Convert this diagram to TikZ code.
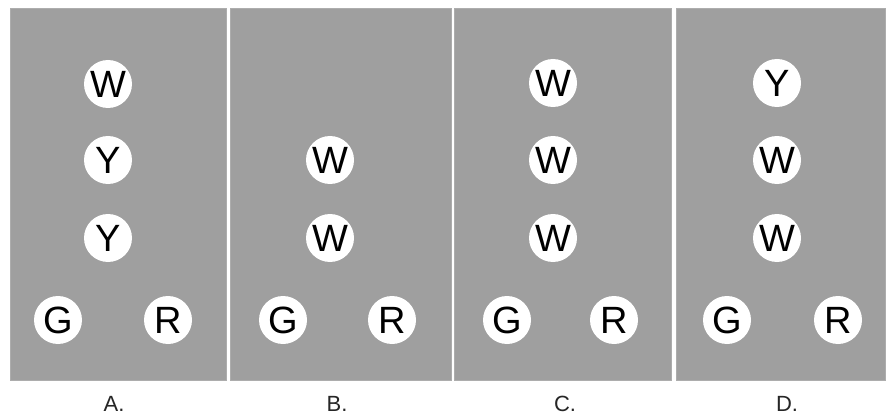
\documentclass[tikz,border=0pt]{standalone}
\usepackage{fontspec}
\setmainfont{Liberation Sans}
\begin{document}
\begin{tikzpicture}[x=1pt,y=-1pt,
  panel/.style={fill=panelgray,draw=panelgray!85!white,line width=1pt},
  ball/.style={circle,fill=white,draw=none,minimum size=48pt,inner sep=0pt,font=\fontsize{38}{38}\selectfont},
  lab/.style={font=\fontsize{22}{22}\selectfont,text=black!85}]
\definecolor{panelgray}{HTML}{9F9F9F}
\useasboundingbox[fill=white] (0,0) rectangle (889,417);
% panels
\path[panel] (10,9) rectangle (226,380);
\path[panel] (230,9) rectangle (451,380);
\path[panel] (454,9) rectangle (671,380);
\path[panel] (676,9) rectangle (885,380);
% A
\node[ball] (a1) at (108,84) {W};
\node[ball] (a2) at (108,160) {Y};
\node[ball] (a3) at (108,238) {Y};
\node[ball] (ag) at (58,320) {G};
\node[ball] (ar) at (168,320) {R};
\node[lab] (la) at (114,404) {A.};
% B
\node[ball] (b2) at (330,160) {W};
\node[ball] (b3) at (330,238) {W};
\node[ball] (bg) at (283,320) {G};
\node[ball] (br) at (392,320) {R};
\node[lab] (lb) at (337,404) {B.};
% C
\node[ball] (c1) at (553,83) {W};
\node[ball] (c2) at (553,160) {W};
\node[ball] (c3) at (553,238) {W};
\node[ball] (cg) at (507,320) {G};
\node[ball] (cr) at (614,320) {R};
\node[lab] (lc) at (565,404) {C.};
% D
\node[ball] (d1) at (777,83) {Y};
\node[ball] (d2) at (777,160) {W};
\node[ball] (d3) at (777,238) {W};
\node[ball] (dg) at (727,320) {G};
\node[ball] (dr) at (838,320) {R};
\node[lab] (ld) at (787,404) {D.};
\end{tikzpicture}
\end{document}
